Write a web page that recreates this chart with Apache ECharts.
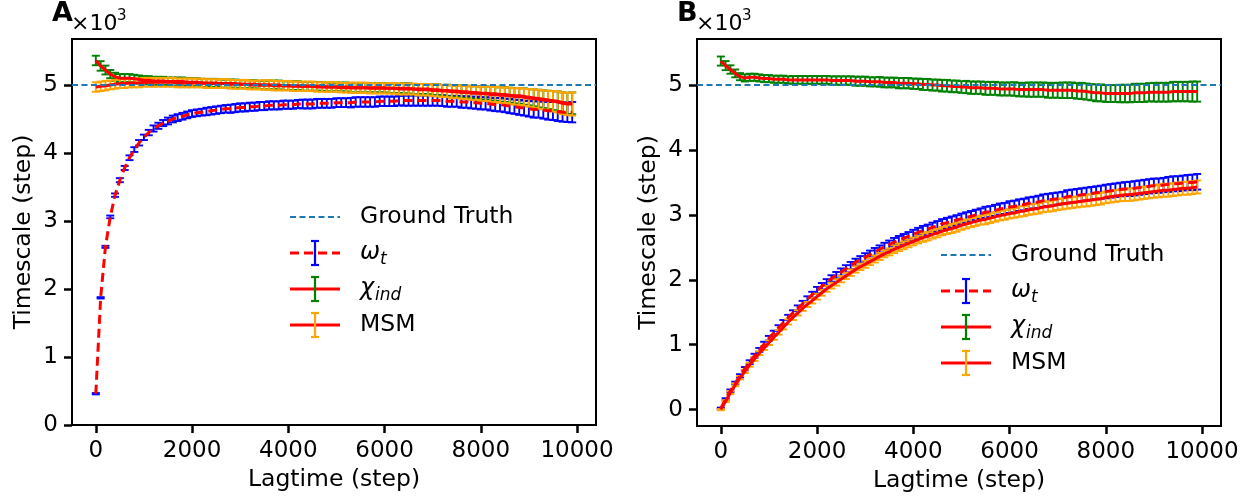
<!DOCTYPE html>
<html>
<head>
<meta charset="utf-8">
<script src="https://cdn.jsdelivr.net/npm/echarts@6/dist/echarts.min.js"></script>
<style>
  html, body { margin: 0; padding: 0; background: #fff; }
  #chart { width: 1255px; height: 501px; }
</style>
</head>
<body>
<div id="chart"></div>
<script>
// lag times (steps)
const lagtime = [
  0, 100, 200, 300, 400, 500, 600, 700, 800, 900,
  1000, 1100, 1200, 1300, 1400, 1500, 1600, 1700, 1800, 1900,
  2000, 2100, 2200, 2300, 2400, 2500, 2600, 2700, 2800, 2900,
  3000, 3100, 3200, 3300, 3400, 3500, 3600, 3700, 3800, 3900,
  4000, 4100, 4200, 4300, 4400, 4500, 4600, 4700, 4800, 4900,
  5000, 5100, 5200, 5300, 5400, 5500, 5600, 5700, 5800, 5900,
  6000, 6100, 6200, 6300, 6400, 6500, 6600, 6700, 6800, 6900,
  7000, 7100, 7200, 7300, 7400, 7500, 7600, 7700, 7800, 7900,
  8000, 8100, 8200, 8300, 8400, 8500, 8600, 8700, 8800, 8900,
  9000, 9100, 9200, 9300, 9400, 9500, 9600, 9700, 9800, 9900
];
const xTicks = [0, 2000, 4000, 6000, 8000, 10000];
const yTicks = [0, 1, 2, 3, 4, 5];
const groundTruth = 5; // x10^3 steps

// ---- panel A (timescale, x10^3 steps) ----
const omegaA = [
  0.46, 1.87, 2.62, 3.06, 3.38, 3.60, 3.78, 3.93, 4.05, 4.15,
  4.23, 4.30, 4.36, 4.40, 4.44, 4.47, 4.50, 4.52, 4.54, 4.56,
  4.58, 4.59, 4.60, 4.61, 4.62, 4.63, 4.64, 4.65, 4.65, 4.66,
  4.67, 4.67, 4.68, 4.68, 4.69, 4.69, 4.70, 4.70, 4.70, 4.71,
  4.71, 4.71, 4.72, 4.72, 4.72, 4.72, 4.73, 4.73, 4.73, 4.73,
  4.74, 4.74, 4.74, 4.74, 4.75, 4.75, 4.75, 4.75, 4.75, 4.76,
  4.76, 4.76, 4.76, 4.77, 4.77, 4.77, 4.77, 4.77, 4.77, 4.77,
  4.77, 4.77, 4.77, 4.76, 4.76, 4.76, 4.75, 4.75, 4.74, 4.74,
  4.73, 4.73, 4.72, 4.71, 4.71, 4.70, 4.69, 4.68, 4.67, 4.66,
  4.65, 4.64, 4.64, 4.63, 4.62, 4.62, 4.61, 4.60, 4.60, 4.60
];
const omegaAErr = [
  0.01, 0.01, 0.015, 0.02, 0.025, 0.03, 0.03, 0.035, 0.035, 0.04,
  0.04, 0.04, 0.045, 0.045, 0.045, 0.05, 0.05, 0.05, 0.05, 0.05,
  0.05, 0.05, 0.05, 0.055, 0.055, 0.055, 0.055, 0.055, 0.06, 0.06,
  0.06, 0.06, 0.06, 0.06, 0.06, 0.06, 0.06, 0.06, 0.06, 0.06,
  0.06, 0.06, 0.06, 0.065, 0.065, 0.065, 0.065, 0.065, 0.065, 0.065,
  0.065, 0.065, 0.065, 0.07, 0.07, 0.07, 0.07, 0.07, 0.07, 0.07,
  0.07, 0.07, 0.07, 0.07, 0.075, 0.075, 0.075, 0.075, 0.075, 0.075,
  0.075, 0.075, 0.08, 0.08, 0.08, 0.08, 0.085, 0.085, 0.085, 0.09,
  0.09, 0.09, 0.095, 0.095, 0.10, 0.10, 0.105, 0.105, 0.11, 0.11,
  0.115, 0.12, 0.12, 0.125, 0.13, 0.135, 0.14, 0.14, 0.145, 0.15
];
const chiA = [
  5.36, 5.28, 5.22, 5.16, 5.12, 5.10, 5.10, 5.10, 5.09, 5.08,
  5.07, 5.07, 5.06, 5.06, 5.06, 5.05, 5.05, 5.05, 5.05, 5.04,
  5.04, 5.04, 5.03, 5.03, 5.03, 5.03, 5.02, 5.02, 5.02, 5.02,
  5.01, 5.01, 5.01, 5.01, 5.00, 5.00, 5.00, 5.00, 5.00, 4.99,
  4.99, 4.99, 4.99, 4.98, 4.98, 4.98, 4.98, 4.98, 4.97, 4.97,
  4.97, 4.97, 4.97, 4.96, 4.96, 4.96, 4.96, 4.96, 4.96, 4.96,
  4.96, 4.95, 4.95, 4.95, 4.95, 4.95, 4.94, 4.94, 4.94, 4.94,
  4.93, 4.93, 4.92, 4.92, 4.91, 4.91, 4.90, 4.90, 4.89, 4.89,
  4.88, 4.88, 4.87, 4.87, 4.86, 4.86, 4.85, 4.84, 4.84, 4.83,
  4.82, 4.81, 4.80, 4.79, 4.78, 4.77, 4.76, 4.74, 4.73, 4.73
];
const chiAErr = [
  0.07, 0.07, 0.065, 0.06, 0.06, 0.06, 0.06, 0.06, 0.06, 0.06,
  0.06, 0.06, 0.06, 0.06, 0.06, 0.06, 0.06, 0.06, 0.06, 0.06,
  0.06, 0.06, 0.06, 0.06, 0.06, 0.06, 0.06, 0.06, 0.06, 0.06,
  0.06, 0.06, 0.06, 0.06, 0.06, 0.065, 0.065, 0.065, 0.065, 0.065,
  0.065, 0.065, 0.065, 0.065, 0.065, 0.065, 0.065, 0.065, 0.065, 0.065,
  0.065, 0.065, 0.065, 0.07, 0.07, 0.07, 0.07, 0.07, 0.07, 0.07,
  0.07, 0.07, 0.07, 0.07, 0.075, 0.075, 0.075, 0.075, 0.075, 0.075,
  0.08, 0.08, 0.08, 0.085, 0.085, 0.085, 0.09, 0.09, 0.09, 0.095,
  0.095, 0.10, 0.10, 0.105, 0.105, 0.11, 0.11, 0.115, 0.115, 0.12,
  0.12, 0.125, 0.13, 0.13, 0.135, 0.14, 0.145, 0.15, 0.155, 0.16
];
const msmA = [
  4.97, 4.98, 4.99, 5.00, 5.01, 5.02, 5.02, 5.03, 5.03, 5.03,
  5.04, 5.04, 5.04, 5.04, 5.04, 5.04, 5.04, 5.03, 5.03, 5.03,
  5.03, 5.03, 5.03, 5.02, 5.02, 5.02, 5.02, 5.02, 5.01, 5.01,
  5.01, 5.01, 5.00, 5.00, 5.00, 5.00, 5.00, 4.99, 4.99, 4.99,
  4.99, 4.98, 4.98, 4.98, 4.98, 4.98, 4.97, 4.97, 4.97, 4.97,
  4.97, 4.96, 4.96, 4.96, 4.96, 4.96, 4.96, 4.95, 4.95, 4.95,
  4.95, 4.95, 4.95, 4.94, 4.94, 4.94, 4.94, 4.93, 4.93, 4.93,
  4.92, 4.92, 4.91, 4.91, 4.90, 4.90, 4.89, 4.89, 4.88, 4.88,
  4.87, 4.87, 4.86, 4.86, 4.85, 4.85, 4.84, 4.83, 4.83, 4.82,
  4.81, 4.80, 4.79, 4.78, 4.77, 4.76, 4.75, 4.73, 4.72, 4.72
];
const msmAErr = [
  0.07, 0.07, 0.07, 0.065, 0.065, 0.065, 0.065, 0.065, 0.065, 0.065,
  0.065, 0.065, 0.065, 0.065, 0.065, 0.065, 0.065, 0.065, 0.065, 0.065,
  0.065, 0.065, 0.065, 0.065, 0.065, 0.065, 0.065, 0.065, 0.065, 0.065,
  0.065, 0.065, 0.065, 0.065, 0.065, 0.07, 0.07, 0.07, 0.07, 0.07,
  0.07, 0.07, 0.07, 0.07, 0.07, 0.07, 0.07, 0.07, 0.07, 0.07,
  0.07, 0.07, 0.07, 0.075, 0.075, 0.075, 0.075, 0.075, 0.075, 0.075,
  0.075, 0.075, 0.08, 0.08, 0.08, 0.08, 0.08, 0.085, 0.085, 0.085,
  0.085, 0.09, 0.09, 0.09, 0.095, 0.095, 0.095, 0.10, 0.10, 0.10,
  0.105, 0.105, 0.11, 0.11, 0.115, 0.115, 0.12, 0.12, 0.125, 0.125,
  0.13, 0.135, 0.14, 0.14, 0.145, 0.15, 0.155, 0.16, 0.165, 0.17
];

// ---- panel B ----
const omegaB = [
  0.02, 0.16, 0.29, 0.41, 0.52, 0.63, 0.73, 0.83, 0.92, 1.01,
  1.10, 1.18, 1.26, 1.34, 1.42, 1.49, 1.56, 1.63, 1.70, 1.77,
  1.84, 1.90, 1.96, 2.02, 2.07, 2.12, 2.17, 2.22, 2.27, 2.31,
  2.35, 2.39, 2.43, 2.47, 2.51, 2.54, 2.58, 2.61, 2.64, 2.67,
  2.70, 2.73, 2.76, 2.78, 2.81, 2.83, 2.86, 2.88, 2.90, 2.92,
  2.94, 2.96, 2.98, 3.00, 3.02, 3.04, 3.05, 3.07, 3.09, 3.10,
  3.12, 3.13, 3.15, 3.16, 3.18, 3.19, 3.20, 3.22, 3.23, 3.24,
  3.25, 3.26, 3.28, 3.29, 3.30, 3.31, 3.32, 3.33, 3.34, 3.35,
  3.36, 3.37, 3.38, 3.39, 3.40, 3.40, 3.41, 3.42, 3.43, 3.44,
  3.45, 3.45, 3.46, 3.47, 3.48, 3.48, 3.49, 3.50, 3.50, 3.51
];
const omegaBErr = [
  0.01, 0.015, 0.02, 0.02, 0.025, 0.025, 0.03, 0.03, 0.03, 0.035,
  0.035, 0.035, 0.04, 0.04, 0.04, 0.04, 0.045, 0.045, 0.045, 0.045,
  0.05, 0.05, 0.05, 0.05, 0.05, 0.055, 0.055, 0.055, 0.055, 0.055,
  0.06, 0.06, 0.06, 0.06, 0.06, 0.065, 0.065, 0.065, 0.065, 0.065,
  0.07, 0.07, 0.07, 0.07, 0.07, 0.075, 0.075, 0.075, 0.075, 0.075,
  0.08, 0.08, 0.08, 0.08, 0.08, 0.085, 0.085, 0.085, 0.085, 0.085,
  0.09, 0.09, 0.09, 0.09, 0.09, 0.09, 0.095, 0.095, 0.095, 0.095,
  0.095, 0.095, 0.10, 0.10, 0.10, 0.10, 0.10, 0.10, 0.10, 0.10,
  0.105, 0.105, 0.105, 0.105, 0.105, 0.11, 0.11, 0.11, 0.11, 0.11,
  0.11, 0.11, 0.11, 0.115, 0.115, 0.115, 0.115, 0.115, 0.12, 0.12
];
const chiB = [
  5.37, 5.30, 5.24, 5.18, 5.13, 5.11, 5.12, 5.12, 5.11, 5.10,
  5.10, 5.09, 5.09, 5.09, 5.08, 5.08, 5.08, 5.08, 5.08, 5.08,
  5.08, 5.08, 5.08, 5.07, 5.07, 5.07, 5.07, 5.07, 5.06, 5.06,
  5.06, 5.05, 5.05, 5.05, 5.04, 5.04, 5.04, 5.03, 5.03, 5.03,
  5.02, 5.02, 5.01, 5.01, 5.00, 5.00, 4.99, 4.99, 4.98, 4.98,
  4.97, 4.97, 4.96, 4.96, 4.96, 4.95, 4.95, 4.95, 4.94, 4.94,
  4.94, 4.94, 4.93, 4.93, 4.93, 4.93, 4.93, 4.93, 4.92, 4.92,
  4.92, 4.92, 4.92, 4.92, 4.91, 4.91, 4.90, 4.89, 4.88, 4.88,
  4.87, 4.87, 4.87, 4.87, 4.87, 4.87, 4.88, 4.88, 4.88, 4.89,
  4.89, 4.89, 4.89, 4.89, 4.90, 4.90, 4.90, 4.90, 4.90, 4.90
];
const chiBErr = [
  0.07, 0.07, 0.065, 0.06, 0.055, 0.055, 0.055, 0.055, 0.055, 0.055,
  0.055, 0.055, 0.055, 0.055, 0.055, 0.06, 0.06, 0.06, 0.06, 0.06,
  0.06, 0.06, 0.06, 0.065, 0.065, 0.065, 0.065, 0.065, 0.07, 0.07,
  0.07, 0.07, 0.07, 0.075, 0.075, 0.075, 0.075, 0.08, 0.08, 0.08,
  0.08, 0.08, 0.085, 0.085, 0.085, 0.085, 0.09, 0.09, 0.09, 0.09,
  0.09, 0.095, 0.095, 0.095, 0.095, 0.10, 0.10, 0.10, 0.10, 0.10,
  0.10, 0.105, 0.105, 0.105, 0.11, 0.11, 0.11, 0.11, 0.115, 0.115,
  0.115, 0.12, 0.12, 0.12, 0.12, 0.125, 0.125, 0.125, 0.13, 0.13,
  0.13, 0.13, 0.13, 0.135, 0.135, 0.135, 0.14, 0.14, 0.14, 0.14,
  0.145, 0.145, 0.145, 0.145, 0.15, 0.15, 0.15, 0.15, 0.155, 0.155
];
const msmB = [
  0.00, 0.13, 0.26, 0.38, 0.49, 0.59, 0.69, 0.78, 0.87, 0.95,
  1.03, 1.11, 1.19, 1.27, 1.35, 1.42, 1.49, 1.56, 1.62, 1.68,
  1.74, 1.80, 1.86, 1.91, 1.96, 2.01, 2.06, 2.11, 2.16, 2.20,
  2.24, 2.28, 2.32, 2.36, 2.40, 2.43, 2.47, 2.50, 2.53, 2.56,
  2.59, 2.62, 2.65, 2.67, 2.70, 2.72, 2.75, 2.77, 2.79, 2.81,
  2.84, 2.86, 2.88, 2.90, 2.92, 2.93, 2.95, 2.97, 2.99, 3.00,
  3.02, 3.03, 3.05, 3.06, 3.08, 3.09, 3.10, 3.12, 3.13, 3.14,
  3.16, 3.17, 3.18, 3.19, 3.20, 3.21, 3.22, 3.23, 3.24, 3.25,
  3.27, 3.28, 3.29, 3.30, 3.31, 3.31, 3.32, 3.33, 3.34, 3.35,
  3.36, 3.37, 3.38, 3.38, 3.39, 3.40, 3.41, 3.41, 3.42, 3.43
];
const msmBErr = [
  0.01, 0.015, 0.02, 0.02, 0.025, 0.025, 0.03, 0.03, 0.03, 0.03,
  0.035, 0.035, 0.035, 0.035, 0.04, 0.04, 0.04, 0.04, 0.04, 0.045,
  0.045, 0.045, 0.045, 0.045, 0.05, 0.05, 0.05, 0.05, 0.05, 0.05,
  0.055, 0.055, 0.055, 0.055, 0.055, 0.055, 0.06, 0.06, 0.06, 0.06,
  0.06, 0.06, 0.065, 0.065, 0.065, 0.065, 0.065, 0.065, 0.07, 0.07,
  0.07, 0.07, 0.07, 0.07, 0.07, 0.075, 0.075, 0.075, 0.075, 0.075,
  0.075, 0.075, 0.08, 0.08, 0.08, 0.08, 0.08, 0.08, 0.08, 0.085,
  0.085, 0.085, 0.085, 0.085, 0.085, 0.085, 0.09, 0.09, 0.09, 0.09,
  0.09, 0.09, 0.09, 0.09, 0.095, 0.095, 0.095, 0.095, 0.095, 0.095,
  0.095, 0.10, 0.10, 0.10, 0.10, 0.10, 0.10, 0.10, 0.10, 0.10
];

const FONT = 'DejaVu Sans';
const RED = '#ff0000';
const GT_COLOR = '#1f77b4';

// vertical error bar with caps, drawn through the axis scales
function errorBars(gi, mean, err, color) {
  return {
    type: 'custom',
    xAxisIndex: gi,
    yAxisIndex: gi,
    z: 2,
    silent: true,
    data: lagtime.map((x, i) => [x, mean[i], err[i]]),
    encode: { x: 0, y: 1 },
    renderItem: (params, api) => {
      const x = api.value(0)
      const y = api.value(1)
      const e = api.value(2)
      const lo = api.coord([x, y - e])
      const hi = api.coord([x, y + e])
      const cw = 4
      const style = { stroke: color, lineWidth: 1.9, fill: null }
      return {
        type: 'group',
        children: [
          { type: 'line', shape: { x1: lo[0], y1: lo[1], x2: hi[0], y2: hi[1] }, style },
          { type: 'line', shape: { x1: lo[0] - cw, y1: lo[1], x2: lo[0] + cw, y2: lo[1] }, style },
          { type: 'line', shape: { x1: hi[0] - cw, y1: hi[1], x2: hi[0] + cw, y2: hi[1] }, style }
        ]
      }
    }
  }
}

function meanLine(gi, mean, dashed) {
  return {
    type: 'line',
    xAxisIndex: gi,
    yAxisIndex: gi,
    z: 3,
    silent: true,
    symbol: 'none',
    showSymbol: false,
    data: lagtime.map((x, i) => [x, mean[i]]),
    lineStyle: { color: RED, width: 3, type: dashed ? [9, 5] : 'solid' }
  }
}

function truthLine(gi) {
  return {
    type: 'line',
    xAxisIndex: gi,
    yAxisIndex: gi,
    z: 1,
    data: [],
    markLine: {
      silent: true,
      symbol: ['none', 'none'],
      label: { show: false },
      lineStyle: { color: GT_COLOR, width: 1.8, type: [6, 3.5] },
      data: [{ yAxis: groundTruth }]
    }
  }
}

function xAxis(gi) {
  return {
    type: 'value',
    gridIndex: gi,
    min: -495,
    max: 10395,
    name: 'Lagtime (step)',
    nameLocation: 'middle',
    nameGap: 42,
    nameTextStyle: { fontFamily: FONT, fontSize: 23.5, color: '#000' },
    axisLine: { show: true, onZero: false, lineStyle: { color: '#000', width: 2 } },
    axisTick: { show: true, length: 8, customValues: xTicks, lineStyle: { color: '#000', width: 2.5 } },
    axisLabel: {
      fontFamily: FONT, fontSize: 23, color: '#000', margin: 15,
      customValues: xTicks, formatter: (v) => String(v)
    },
    splitLine: { show: false }
  }
}

function yAxis(gi, min, max) {
  return {
    type: 'value',
    gridIndex: gi,
    min: min,
    max: max,
    name: 'Timescale (step)',
    nameLocation: 'middle',
    nameRotate: 90,
    nameGap: 36,
    nameTextStyle: { fontFamily: FONT, fontSize: 23.5, color: '#000' },
    axisLine: { show: true, onZero: false, lineStyle: { color: '#000', width: 2 } },
    axisTick: { show: true, length: 8, customValues: yTicks, lineStyle: { color: '#000', width: 2.5 } },
    axisLabel: {
      fontFamily: FONT, fontSize: 23, color: '#000', margin: 14,
      customValues: yTicks, formatter: (v) => String(v)
    },
    splitLine: { show: false }
  }
}

function txt(text, x, y, size, extra) {
  return {
    type: 'text',
    silent: true,
    style: Object.assign({
      text: text, x: x, y: y,
      fontFamily: FONT, fontSize: size, fill: '#000',
      align: 'left', verticalAlign: 'middle',
      textAlign: 'left', textVerticalAlign: 'middle'
    }, extra || {})
  }
}

function ln(x1, y1, x2, y2, color, width, dash) {
  return {
    type: 'line',
    silent: true,
    shape: { x1, y1, x2, y2 },
    style: { stroke: color, lineWidth: width, lineDash: dash || null }
  }
}

// legend drawn by hand: matplotlib style errorbar handles
function legend(x0, y0) {
  const dy = 36
  const els = []
  const tx = x0 + 70
  els.push(ln(x0, y0, x0 + 50, y0, GT_COLOR, 1.8, [6, 3.5]))
  els.push(txt('Ground Truth', tx, y0, 23.5))
  const handles = [['#0000ff', [9, 5]], ['#008000', null], ['#ffa500', null]]
  handles.forEach(([c, d], k) => {
    const y = y0 + dy * (k + 1)
    const cx = x0 + 25
    els.push(ln(x0, y, x0 + 50, y, RED, 3, d))
    els.push(ln(cx, y - 12, cx, y + 12, c, 2.2))
    els.push(ln(cx - 4, y - 12, cx + 4, y - 12, c, 2.2))
    els.push(ln(cx - 4, y + 12, cx + 4, y + 12, c, 2.2))
  })
  els.push(txt('\u03c9', tx, y0 + dy, 24, { fontStyle: 'italic' }))
  els.push(txt('t', tx + 20, y0 + dy + 7, 17, { fontStyle: 'italic' }))
  els.push(txt('\u03c7', tx, y0 + 2 * dy, 24, { fontStyle: 'italic' }))
  els.push(txt('ind', tx + 15, y0 + 2 * dy + 7, 17, { fontStyle: 'italic' }))
  els.push(txt('MSM', tx, y0 + 3 * dy, 23.5))
  return els
}

function panelTitle(letter, x, xOff) {
  return [
    txt(letter, x, 14, 27, { fontWeight: 'bold' }),
    txt('\u00d710', xOff, 24, 22),
    txt('3', xOff + 46, 16, 15)
  ]
}

const chart = echarts.init(document.getElementById('chart'), null, { renderer: 'canvas' })

chart.setOption({
  animation: false,
  backgroundColor: '#fff',
  grid: [
    { left: 72, top: 39, width: 524, height: 386, show: true, borderColor: '#000', borderWidth: 2, backgroundColor: 'transparent' },
    { left: 697, top: 39, width: 524, height: 387, show: true, borderColor: '#000', borderWidth: 2, backgroundColor: 'transparent' }
  ],
  xAxis: [xAxis(0), xAxis(1)],
  yAxis: [yAxis(0, 0, 5.676), yAxis(1, -0.253, 5.71)],
  series: [
    truthLine(0),
    errorBars(0, omegaA, omegaAErr, '#0000ff'),
    errorBars(0, chiA, chiAErr, '#008000'),
    errorBars(0, msmA, msmAErr, '#ffa500'),
    meanLine(0, omegaA, true),
    meanLine(0, chiA, false),
    meanLine(0, msmA, false),

    truthLine(1),
    errorBars(1, omegaB, omegaBErr, '#0000ff'),
    errorBars(1, chiB, chiBErr, '#008000'),
    errorBars(1, msmB, msmBErr, '#ffa500'),
    meanLine(1, omegaB, true),
    meanLine(1, chiB, false),
    meanLine(1, msmB, false)
  ],
  graphic: [].concat(
    panelTitle('A', 52, 71),
    panelTitle('B', 677, 696),
    legend(290, 217),
    legend(941, 255)
  )
})
</script>
</body>
</html>
